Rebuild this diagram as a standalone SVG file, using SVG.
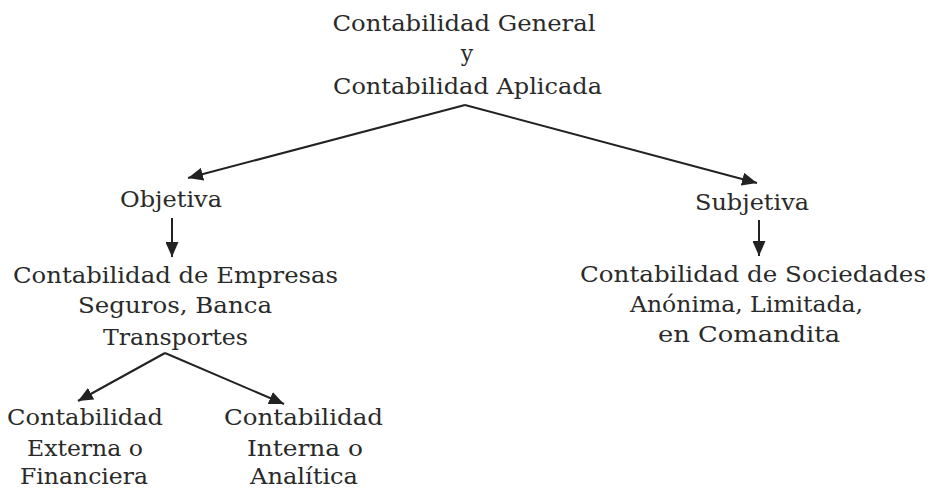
<svg xmlns="http://www.w3.org/2000/svg" width="938" height="489" viewBox="0 0 938 489">
<style>
text{font-family:"DejaVu Serif","Liberation Serif",serif;font-size:22px;fill:#2a2a2a;text-anchor:middle}
.c{stroke:#222;stroke-width:2;fill:none;marker-end:url(#ah)}
</style>
<defs>
<marker id="ah" markerUnits="userSpaceOnUse" markerWidth="16" markerHeight="13" refX="15" refY="6.5" orient="auto">
<path d="M0,0 L15,6.5 L0,13 z" fill="#222"/>
</marker>
</defs>
<rect width="938" height="489" fill="#fff"/>
<g id="connectors">
<line class="c" x1="465" y1="105" x2="188" y2="178"/>
<line class="c" x1="465" y1="105" x2="757" y2="183"/>
<line class="c" x1="172" y1="218" x2="172" y2="257"/>
<line class="c" x1="759" y1="220" x2="759" y2="256"/>
<line class="c" x1="165" y1="353" x2="78" y2="401"/>
<line class="c" x1="165" y1="353" x2="284" y2="404"/>
</g>
<g id="root">
<text x="464" y="31" textLength="263" lengthAdjust="spacingAndGlyphs">Contabilidad General</text>
<text x="467" y="61">y</text>
<text x="467.5" y="94" textLength="269" lengthAdjust="spacingAndGlyphs">Contabilidad Aplicada</text>
</g>
<g id="objetiva">
<text x="171" y="207" textLength="102" lengthAdjust="spacingAndGlyphs">Objetiva</text>
</g>
<g id="subjetiva">
<text x="752" y="210" textLength="114" lengthAdjust="spacingAndGlyphs">Subjetiva</text>
</g>
<g id="empresas">
<text x="175.5" y="283" textLength="325" lengthAdjust="spacingAndGlyphs">Contabilidad de Empresas</text>
<text x="175" y="313" textLength="194" lengthAdjust="spacingAndGlyphs">Seguros, Banca</text>
<text x="175.5" y="345" textLength="145" lengthAdjust="spacingAndGlyphs">Transportes</text>
</g>
<g id="sociedades">
<text x="753" y="282" textLength="346" lengthAdjust="spacingAndGlyphs">Contabilidad de Sociedades</text>
<text x="746.5" y="312" textLength="233" lengthAdjust="spacingAndGlyphs">Anónima, Limitada,</text>
<text x="749" y="342" textLength="182" lengthAdjust="spacingAndGlyphs">en Comandita</text>
</g>
<g id="externa">
<text x="85" y="425" textLength="156" lengthAdjust="spacingAndGlyphs">Contabilidad</text>
<text x="85" y="456" textLength="116" lengthAdjust="spacingAndGlyphs">Externa o</text>
<text x="84" y="484" textLength="128" lengthAdjust="spacingAndGlyphs">Financiera</text>
</g>
<g id="interna">
<text x="303.5" y="425" textLength="159" lengthAdjust="spacingAndGlyphs">Contabilidad</text>
<text x="305" y="456" textLength="116" lengthAdjust="spacingAndGlyphs">Interna o</text>
<text x="304" y="484" textLength="108" lengthAdjust="spacingAndGlyphs">Analítica</text>
</g>
</svg>
